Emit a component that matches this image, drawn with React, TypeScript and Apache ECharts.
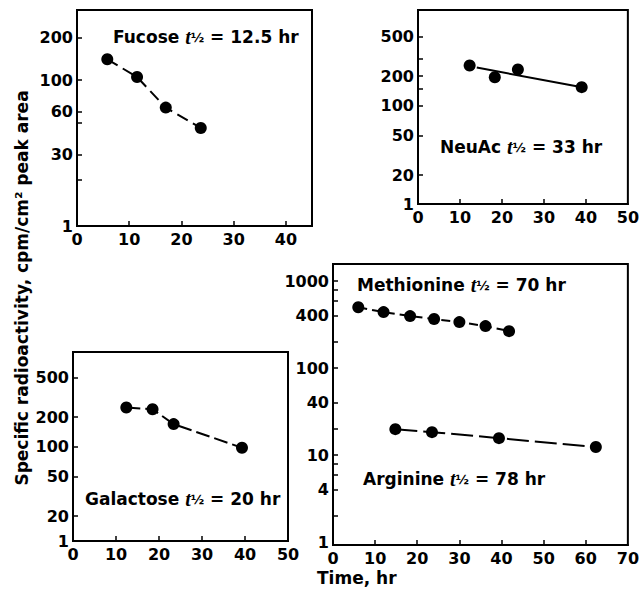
import React, { useEffect, useRef } from "react";
import * as echarts from "echarts";

// ---- data ----
const fucoseTime = [5.8, 11.5, 17, 23.7];
const fucoseActivity = [140, 105, 64, 46];

const neuacTime = [12.3, 18.3, 23.8, 39];
const neuacActivity = [257, 195, 234, 155];
const neuacFitTime = [14, 37.8];
const neuacFitActivity = [245, 158];

const galactoseTime = [12.4, 18.5, 23.4, 39.3];
const galactoseActivity = [250, 240, 170, 98];

const methionineTime = [6, 12, 18.3, 24, 30, 36.2, 41.8];
const methionineActivity = [500, 440, 396, 366, 338, 304, 266];

const arginineTime = [14.8, 23.5, 39.4, 62.4];
const arginineActivity = [19.9, 18.4, 15.7, 12.4];

// axis ticks / labels
const xMaxes = [45, 50, 50, 70];
const xLabelValues = [
  [0, 10, 20, 30, 40],
  [0, 10, 20, 30, 40, 50],
  [0, 10, 20, 30, 40, 50],
  [0, 10, 20, 30, 40, 50, 60, 70],
];
const yRanges = [
  [9.4, 311],
  [10.2, 935],
  [11.2, 910],
  [0.93, 1570],
];
const yTickValues = [
  [20, 30, 50, 60, 100, 200],
  [20, 50, 100, 150, 200, 300, 500],
  [20, 50, 100, 200, 500],
  [2, 4, 6, 8, 10, 20, 40, 100, 200, 400, 600, 800, 1000],
];
const yLabelValues = [
  [30, 60, 100, 200],
  [20, 50, 100, 200, 500],
  [20, 50, 100, 200, 500],
  [1, 4, 10, 40, 100, 400, 1000],
];
// panels whose bottom edge is labelled "1" (broken axis)
const brokenBottom = [true, true, true, false];

const grids = [
  { left: 77, top: 10, width: 235, height: 216 },
  { left: 418, top: 10, width: 213, height: 194 },
  { left: 73, top: 352, width: 215, height: 189 },
  { left: 333, top: 264, width: 298, height: 281 },
];

const FONT = "DejaVu Sans";

function pairs(xs: number[], ys: number[]) {
  return xs.map((x, i) => [x, ys[i]]);
}

export default function App() {
  const ref = useRef<HTMLDivElement>(null);
  useEffect(() => {
    if (!ref.current) return;
    const chart = echarts.init(ref.current, undefined, { renderer: "svg" });

    const xAxis = grids.map((_, i) => ({
      type: "value",
      gridIndex: i,
      min: 0,
      max: xMaxes[i],
      interval: 10,
      axisLine: { show: true, lineStyle: { color: "#000", width: 2 } },
      axisTick: {
        show: true,
        inside: true,
        length: 5,
        lineStyle: { color: "#000", width: 1.5 },
        customValues: xLabelValues[i].filter((v) => v > 0 && v < xMaxes[i]),
      },
      axisLabel: {
        customValues: xLabelValues[i],
        color: "#000",
        fontFamily: FONT,
        fontWeight: "bold",
        fontSize: 16,
        margin: 5,
      },
      splitLine: { show: false },
    }));

    const yAxis = grids.map((_, i) => {
      const [mn, mx] = yRanges[i];
      const labels = brokenBottom[i] ? [mn, ...yLabelValues[i]] : yLabelValues[i];
      return {
        type: "log",
        logBase: 10,
        gridIndex: i,
        min: mn,
        max: mx,
        axisLine: { show: true, lineStyle: { color: "#000", width: 2 } },
        axisTick: {
          show: true,
          inside: true,
          length: 5,
          lineStyle: { color: "#000", width: 1.5 },
          customValues: yTickValues[i],
        },
        minorTick: { show: false },
        axisLabel: {
          customValues: labels,
          color: "#000",
          fontFamily: FONT,
          fontWeight: "bold",
          fontSize: 16,
          margin: 4,
          formatter: (v: number) =>
            brokenBottom[i] && v <= mn * 1.01 ? "1" : String(Math.round(v)),
        },
        splitLine: { show: false },
      };
    });

    const dot = { color: "#000", opacity: 1 };
    const series: any[] = [
      {
        type: "line",
        xAxisIndex: 0,
        yAxisIndex: 0,
        data: pairs(fucoseTime, fucoseActivity),
        symbol: "circle",
        symbolSize: 12,
        itemStyle: dot,
        lineStyle: { color: "#000", width: 2, type: [12, 6] },
      },
      {
        type: "scatter",
        xAxisIndex: 1,
        yAxisIndex: 1,
        data: pairs(neuacTime, neuacActivity),
        symbol: "circle",
        symbolSize: 12,
        itemStyle: dot,
      },
      {
        type: "line",
        xAxisIndex: 1,
        yAxisIndex: 1,
        data: pairs(neuacFitTime, neuacFitActivity),
        showSymbol: false,
        lineStyle: { color: "#000", width: 2 },
      },
      {
        type: "line",
        xAxisIndex: 2,
        yAxisIndex: 2,
        data: pairs(galactoseTime, galactoseActivity),
        symbol: "circle",
        symbolSize: 12,
        itemStyle: dot,
        lineStyle: { color: "#000", width: 2, type: [14, 5] },
      },
      {
        type: "line",
        xAxisIndex: 3,
        yAxisIndex: 3,
        data: pairs(methionineTime, methionineActivity),
        symbol: "circle",
        symbolSize: 12,
        itemStyle: dot,
        lineStyle: { color: "#000", width: 2, type: [9, 5] },
      },
      {
        type: "line",
        xAxisIndex: 3,
        yAxisIndex: 3,
        data: pairs(arginineTime, arginineActivity),
        symbol: "circle",
        symbolSize: 12,
        itemStyle: dot,
        lineStyle: { color: "#000", width: 2, type: [22, 6] },
      },
    ];

    const rich = {
      n: { fontFamily: FONT, fontWeight: "bold", fontSize: 17, fill: "#000" },
      t: {
        fontFamily: "Liberation Serif",
        fontStyle: "italic",
        fontWeight: "bold",
        fontSize: 20,
        fill: "#000",
      },
      h: { fontFamily: FONT, fontWeight: "bold", fontSize: 13, fill: "#000" },
    };
    const note = (x: number, y: number, name: string, value: string) => ({
      type: "text",
      x,
      y,
      style: {
        text: `{n|${name} }{t|t}{h|½}{n| = ${value}}`,
        rich,
        verticalAlign: "middle",
        fill: "#000",
      },
    });

    chart.setOption({
      animation: false,
      grid: grids.map((g) => ({
        ...g,
        show: true,
        borderColor: "#000",
        borderWidth: 2,
        backgroundColor: "transparent",
        containLabel: false,
      })),
      xAxis,
      yAxis,
      series,
      graphic: [
        note(113, 37, "Fucose", "12.5 hr"),
        note(440, 147, "NeuAc", "33 hr"),
        note(85, 499, "Galactose", "20 hr"),
        note(357, 285, "Methionine", "70 hr"),
        note(363, 479, "Arginine", "78 hr"),
        {
          type: "text",
          x: 22,
          y: 288,
          rotation: Math.PI / 2,
          style: {
            text: "Specific radioactivity, cpm/cm² peak area",
            fontFamily: FONT,
            fontWeight: "bold",
            fontSize: 17,
            fill: "#000",
            align: "center",
            verticalAlign: "middle",
          },
        },
        {
          type: "text",
          x: 317,
          y: 578,
          style: {
            text: "Time, hr",
            fontFamily: FONT,
            fontWeight: "bold",
            fontSize: 17,
            fill: "#000",
            align: "left",
            verticalAlign: "middle",
          },
        },
      ],
    });
    return () => chart.dispose();
  }, []);
  return (
    <div
      ref={ref}
      style={{ position: "absolute", left: 0, top: 0, width: 642, height: 590, background: "#fff" }}
    />
  );
}
